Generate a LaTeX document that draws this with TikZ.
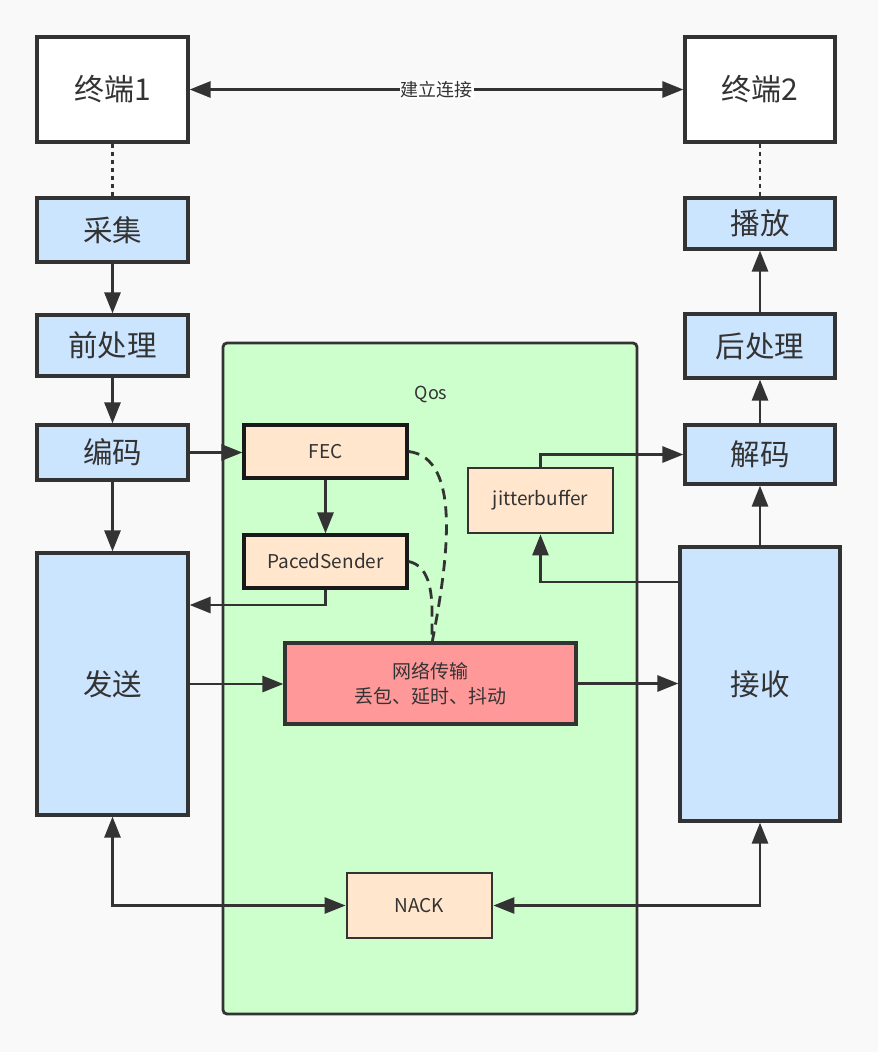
\documentclass[tikz,border=0pt]{standalone}
\usepackage{fontspec}
\setmainfont{Noto Sans CJK SC}
\usetikzlibrary{arrows.meta}
\definecolor{ink}{HTML}{333333}
\definecolor{paper}{HTML}{F9F9F9}
\definecolor{stageblue}{HTML}{CCE5FF}
\definecolor{qosgreen}{HTML}{CCFFCC}
\definecolor{peach}{HTML}{FFE6CC}
\definecolor{lossred}{HTML}{FF9999}
\tikzset{
  box/.style={draw=ink, line width=3.2pt, inner sep=0pt, text=ink, align=center},
  endpoint/.style={box, fill=white, font=\fontsize{30}{36}\selectfont},
  stage/.style={box, fill=stageblue, font=\fontsize{29.5}{36}\selectfont},
  module/.style={box, fill=peach, line width=2.8pt, font=\fontsize{19}{23}\selectfont},
  keymodule/.style={module, draw=black!90, line width=3.2pt},
  tip/.style={Triangle[length=21pt,width=16pt]},
  link/.style={draw=ink, line width=2.8pt, -{Triangle[length=21pt,width=16pt]}},
  duplex/.style={draw=ink, line width=2.8pt, {Triangle[length=21pt,width=16pt]}-{Triangle[length=21pt,width=16pt]}},
  tie/.style={draw=ink, line width=2.8pt, dash pattern=on 4pt off 4pt},
  feedback/.style={draw=ink, line width=2.8pt, dash pattern=on 11pt off 7pt},
}
\begin{document}
\begin{tikzpicture}[x=1pt, y=-1pt]
  % canvas
  \fill[paper] (0,0) rectangle (878,1052);
  \useasboundingbox (0,0) rectangle (878,1052);

  % QoS container
  \node[draw=ink, line width=2.8pt, fill=qosgreen, rounded corners=4pt,
        minimum width=414pt, minimum height=671pt, inner sep=0pt]
        (qos) at (430,678.5) {};
  \node[text=ink, font=\fontsize{18}{21}\selectfont] (qoslabel) at (431,394) {Qos};

  % endpoints
  \node[endpoint, minimum width=151pt, minimum height=105pt] (t1) at (112.5,89.5) {终端1};
  \node[endpoint, minimum width=150pt, minimum height=105pt] (t2) at (760,89.5) {终端2};

  % sender pipeline
  \node[stage, minimum width=151pt, minimum height=64pt]  (cap)  at (112.5,230)   {采集};
  \node[stage, minimum width=151pt, minimum height=61pt]  (pre)  at (112.5,345.5) {前处理};
  \node[stage, minimum width=151pt, minimum height=55pt]  (enc)  at (112.5,452.5) {编码};
  \node[stage, minimum width=151pt, minimum height=262pt] (send) at (112.5,684)   {发送};

  % receiver pipeline
  \node[stage, minimum width=150pt, minimum height=51pt]  (play) at (760,223.5) {播放};
  \node[stage, minimum width=150pt, minimum height=64pt]  (post) at (760,346)   {后处理};
  \node[stage, minimum width=150pt, minimum height=59pt]  (dec)  at (760,454.5) {解码};
  \node[stage, minimum width=160pt, minimum height=274pt] (recv) at (760,684)   {接收};

  % QoS modules
  \node[keymodule, minimum width=163pt, minimum height=53pt] (fec)   at (325.5,451.5) {FEC};
  \node[keymodule, minimum width=163pt, minimum height=53pt] (paced) at (325.5,561.5) {PacedSender};
  \node[module, minimum width=145pt, minimum height=65pt] (jb)   at (540.5,500.5) {jitterbuffer};
  \node[module, minimum width=145pt, minimum height=65pt] (nack) at (419.5,905.5) {NACK};
  \node[box, fill=lossred, minimum width=291pt, minimum height=81pt,
        font=\fontsize{19}{25}\selectfont] (net) at (430.5,683.5) {网络传输\\丢包、延时、抖动};

  % connection setup
  \draw[duplex] (t1.east) -- (t2.west)
    node[midway, fill=white, inner sep=1pt, text=ink, font=\fontsize{18}{21}\selectfont] (setup) {建立连接};
  \draw[tie] (t1.south) -- (cap.north);
  \draw[tie] (t2.south) -- (play.north);

  % sender flow
  \draw[link] (cap.south) -- (pre.north);
  \draw[link] (pre.south) -- (enc.north);
  \draw[link] (enc.south) -- (send.north);
  \draw[link] (enc.east) -- (enc.east -| fec.west);
  \draw[link] (fec.south) -- (paced.north);
  \draw[link] (paced.south) |- (send.east |- 0,605);
  \draw[link] (send.east) -- (send.east -| net.west);

  % receiver flow
  \draw[link] (net.east) -- (net.east -| recv.west);
  \draw[link] (recv.north) -- (dec.south);
  \draw[link] (dec.north) -- (post.south);
  \draw[link] (post.north) -- (play.south);
  \draw[link] (recv.west |- 0,582) -| (jb.south);
  \draw[link] (jb.north) |- (dec.west);

  % retransmission requests
  \draw[duplex] (send.south) |- (nack.west);
  \draw[duplex] (recv.south) |- (nack.east);

  % feedback from the network
  \draw[feedback] (fec.east) .. controls (462,458) and (448,560) .. (432,643);
  \draw[feedback] (paced.east) .. controls (425,565) and (432,582) .. (432,612) -- (432,643);
\end{tikzpicture}
\end{document}
